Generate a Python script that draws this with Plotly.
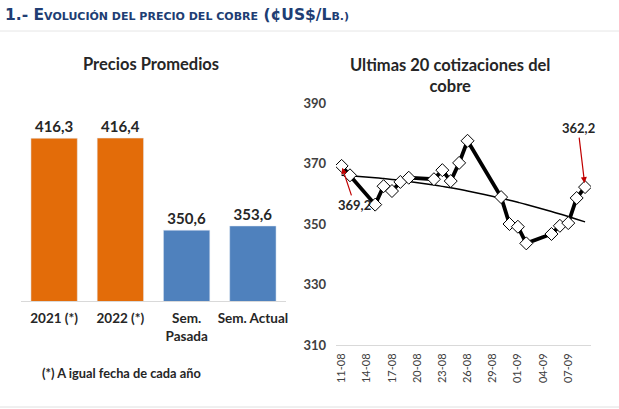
import plotly.graph_objects as go
import numpy as np
import pandas as pd

# ---------------- data ----------------
bar_categories = ["2021 (*)", "2022 (*)", "Sem.<br>Pasada", "Sem. Actual"]
bar_values = [416.3, 416.4, 350.6, 353.6]
bar_colors = ["#E36C09", "#E36C09", "#4F81BD", "#4F81BD"]

dates = ["2022-08-11", "2022-08-12", "2022-08-15", "2022-08-16", "2022-08-17",
         "2022-08-18", "2022-08-19", "2022-08-22", "2022-08-23", "2022-08-24",
         "2022-08-25", "2022-08-26", "2022-08-30", "2022-08-31", "2022-09-01",
         "2022-09-02", "2022-09-05", "2022-09-06", "2022-09-07", "2022-09-08",
         "2022-09-09"]
prices = [369.2, 366.1, 356.4, 362.5, 360.9, 363.9, 365.3, 364.8, 367.8, 364.2,
          370.2, 377.5, 358.9, 350.0, 349.1, 343.6, 346.7, 349.4, 350.3, 358.6,
          362.2]
tick_dates = ["2022-08-11", "2022-08-14", "2022-08-17", "2022-08-20", "2022-08-23",
              "2022-08-26", "2022-08-29", "2022-09-01", "2022-09-04", "2022-09-07"]
y2_ticks = [310, 330, 350, 370, 390]

# polynomial (order 2) trend line, as in the original spreadsheet
d = pd.to_datetime(dates)
t = np.array([(x - d[0]).days for x in d], dtype=float)
coef = np.polyfit(t, prices, 2)
trend = np.polyval(coef, t)

W, H = 619, 409
def px(x): return x / W
def py(y): return 1 - y / H

fig = go.Figure()

fig.add_trace(go.Bar(
    x=bar_categories, y=bar_values, marker_color=bar_colors, width=0.7,
    texttemplate="%{y:.1f}", textposition="outside", cliponaxis=False,
    textfont=dict(size=15, color="#262626", family="Lato", weight="bold"),
    xaxis="x", yaxis="y", hoverinfo="skip"))

fig.add_trace(go.Scatter(
    x=dates, y=trend, mode="lines", line=dict(color="black", width=1.5, shape="spline"),
    xaxis="x2", yaxis="y2", hoverinfo="skip"))

fig.add_trace(go.Scatter(
    x=dates, y=prices, mode="lines+markers",
    line=dict(color="black", width=3.8),
    marker=dict(symbol="diamond", size=10, color="white", line=dict(color="black", width=1)),
    xaxis="x2", yaxis="y2", hoverinfo="skip"))

fig.update_layout(
    width=W, height=H, margin=dict(l=0, r=0, t=0, b=0, pad=0, autoexpand=False),
    paper_bgcolor="white", plot_bgcolor="white", showlegend=False,
    separators=",.", font=dict(family="Lato", color="#262626"),
    xaxis=dict(domain=[px(21), px(286)], anchor="y", showline=True, linecolor="#D9D9D9",
               ticks="", showgrid=False, automargin=False, ticklabelstandoff=5,
               tickfont=dict(size=13.5, color="#262626", family="Lato", weight="bold")),
    yaxis=dict(domain=[py(301), py(101)], anchor="x", range=[300, 442.9], visible=False,
               automargin=False),
    xaxis2=dict(domain=[px(336), px(591)], anchor="y2", type="date", automargin=False,
                range=["2022-08-10 08:00", "2022-09-09 17:00"],
                tickvals=tick_dates, tickformat="%d-%m", tickangle=-90,
                showline=True, linecolor="#D9D9D9", showgrid=False, ticks="",
                ticklabelstandoff=3,
                tickfont=dict(size=11, color="#404040", family="Lato")),
    yaxis2=dict(domain=[py(345), py(103)], anchor="x2", range=[310, 390], automargin=False,
                tickvals=y2_ticks, showgrid=False, zeroline=False, ticks="",
                ticklabelstandoff=9,
                tickfont=dict(size=13, color="#404040", family="Lato", weight="bold")),
)

annotations = [
    dict(xref="paper", yref="paper", x=px(3), y=py(15), xanchor="left", yanchor="middle",
         showarrow=False,
         text="1.- E<span style='font-size:11px'>VOLUCIÓN DEL PRECIO DEL COBRE</span> (¢US$/L<span style='font-size:11px'>B.)</span>",
         font=dict(family="DejaVu Sans", size=15.5, color="#203D73", weight="bold")),
    dict(xref="paper", yref="paper", x=px(151), y=py(64), xanchor="center", yanchor="middle",
         showarrow=False, text="Precios Promedios",
         font=dict(family="Lato", size=16.5, color="#262626", weight="bold")),
    dict(xref="paper", yref="paper", x=px(450), y=py(75), xanchor="center", yanchor="middle",
         showarrow=False, text="Ultimas 20 cotizaciones del<br>cobre",
         font=dict(family="Lato", size=16.5, color="#262626", weight="bold")),
    dict(xref="paper", yref="paper", x=px(40), y=py(373), xanchor="left", yanchor="middle",
         showarrow=False, text="(*) A igual fecha de cada año",
         font=dict(family="Lato", size=12.8, color="#262626", weight="bold")),
    dict(xref="x2", yref="y2", x=dates[-1], y=prices[-1], ax=-7, ay=-59,
         text=f"{prices[-1]:.1f}".replace(".", ","), showarrow=True,
         arrowcolor="#C00000", arrowhead=2, arrowsize=1, arrowwidth=1.2, standoff=4,
         font=dict(family="Lato", size=13, color="#262626", weight="bold")),
    dict(xref="x2", yref="y2", x=dates[0], y=prices[0], ax=13, ay=39,
         text=f"{prices[0]:.1f}".replace(".", ","), showarrow=True,
         arrowcolor="#C00000", arrowhead=2, arrowsize=1, arrowwidth=1.2, standoff=2,
         font=dict(family="Lato", size=13, color="#262626", weight="bold")),
]
fig.update_layout(annotations=annotations)

fig.add_shape(type="line", xref="paper", yref="paper", x0=0, x1=1, y0=py(31), y1=py(31),
              line=dict(color="#E6E6E6", width=1))
fig.add_shape(type="line", xref="paper", yref="paper", x0=0, x1=1, y0=py(407), y1=py(407),
              line=dict(color="#E0E0E0", width=1))

fig.write_html("out.html", config={"displayModeBar": False},
               post_script="document.body.style.margin='0px';document.body.style.overflow='hidden';")
